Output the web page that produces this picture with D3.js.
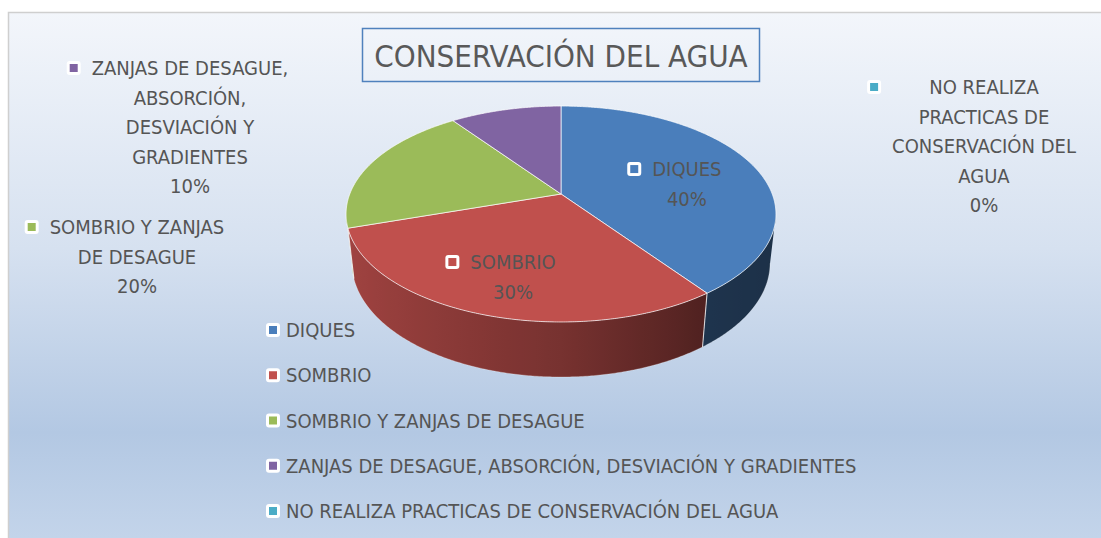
<!DOCTYPE html>
<html>
<head>
<meta charset="utf-8">
<script src="https://cdn.jsdelivr.net/npm/d3@7"></script>
<style>
  body { margin: 0; background: #ffffff; }
  svg { display: block; }
  text { font-family: "Liberation Sans Narrow", "DejaVu Sans Condensed", "Open Sans", sans-serif; }
</style>
</head>
<body>
<svg id="chart" width="1101" height="538"></svg>
<script>
// ---- data ----
const title = "CONSERVACIÓN DEL AGUA";
const categories = [
  "DIQUES",
  "SOMBRIO",
  "SOMBRIO Y ZANJAS DE DESAGUE",
  "ZANJAS DE DESAGUE, ABSORCIÓN, DESVIACIÓN Y GRADIENTES",
  "NO REALIZA PRACTICAS DE CONSERVACIÓN DEL AGUA"
];
const values = [40, 30, 20, 10, 0];
const colors = ["#4a7ebb", "#c0504d", "#9bbb59", "#8064a2", "#4bacc6"];
// category names as wrapped in the data labels
const labelLines = [
  ["DIQUES"],
  ["SOMBRIO"],
  ["SOMBRIO Y ZANJAS", "DE DESAGUE"],
  ["ZANJAS DE DESAGUE,", "ABSORCIÓN,", "DESVIACIÓN Y", "GRADIENTES"],
  ["NO REALIZA", "PRACTICAS DE", "CONSERVACIÓN DEL", "AGUA"]
];

// ---- layout ----
const W = 1101, H = 538;
const fontSize = 20, lineGap = 29.5;
const textColor = "#555555";
// labels placed outside the pie: centre x and first-line y
const outsideLabelPos = { 2: [137, 227], 3: [190, 68], 4: [984, 87] };

const svg = d3.select("#chart");
const defs = svg.append("defs");

// chart area background
const bg = defs.append("linearGradient").attr("id", "bgGrad")
  .attr("x1", 0).attr("y1", 0).attr("x2", 0).attr("y2", 1);
[[0, "#f3f6fb"], [0.45, "#d6e1f0"], [0.8, "#b3c8e3"], [1, "#c3d4ea"]].forEach(([o, c]) =>
  bg.append("stop").attr("offset", o).attr("stop-color", c));

svg.append("rect").attr("x", 8).attr("y", 12).attr("width", W - 8).attr("height", H - 12)
  .attr("fill", "url(#bgGrad)");
svg.append("path").attr("d", `M8.5,${H} L8.5,12.5 L${W},12.5`)
  .attr("fill", "none").attr("stroke", "#cfcfcf").attr("stroke-width", 1.5);

// ---- title ----
svg.append("rect").attr("x", 362.5).attr("y", 28.5).attr("width", 397).attr("height", 53)
  .attr("fill", "none").attr("stroke", "#4f81bd").attr("stroke-width", 1.5);
svg.append("text").attr("x", 561).attr("y", 56).attr("dy", "0.35em")
  .attr("text-anchor", "middle").attr("font-size", 31).attr("fill", "#595959")
  .text(title);

// ---- 3D pie projection ----
const view = { cx: 561, cy: 194, fx: 997, fy: 1015, dist: 4.72, tilt: 29 * Math.PI / 180, depth: 0.265 };
const sT = Math.sin(view.tilt), cT = Math.cos(view.tilt);
// X: right, Z: toward viewer, Y: height (0 = top face)
function project(X, Z, Y) {
  const v = -Y * cT + Z * sT;
  const w = view.dist - (Z * cT + Y * sT);
  return [view.cx + view.fx * X / w, view.cy + view.fy * v / w];
}
function rimPoint(angle, r, Y) {
  return project(r * Math.sin(angle), -r * Math.cos(angle), Y);
}

const pie = d3.pie().sort(null).value(d => d);
const arcs = pie(values).map((a, i) => ({ ...a, i }));
const line = d3.line();
const step = Math.PI / 360;

// visible part of the outer wall: between the rightmost and leftmost rim points
const samples = d3.range(0, 2 * Math.PI, step);
const tRight = samples.filter(t => t < Math.PI).reduce((b, t) => rimPoint(t, 1, 0)[0] > rimPoint(b, 1, 0)[0] ? t : b, 0);
const tLeft = samples.filter(t => t > Math.PI).reduce((b, t) => rimPoint(t, 1, 0)[0] < rimPoint(b, 1, 0)[0] ? t : b, Math.PI);

// shading of the outer wall depending on its horizontal facing
const shade = d3.scaleLinear().domain([-1, 0, 0.6, 1]).range([0.85, 0.62, 0.41, 0.38]).clamp(true);
function shaded(color, angle) {
  const c = d3.rgb(color), k = shade(Math.sin(angle));
  return d3.rgb(c.r * k, c.g * k, c.b * k).formatHex();
}

const gPie = svg.append("g");

arcs.forEach(a => {
  const lo = Math.max(a.startAngle, tRight), hi = Math.min(a.endAngle, tLeft);
  if (hi - lo < 1e-6) return;
  const ts = d3.range(lo, hi, step).concat([hi]);
  const x1 = rimPoint(lo, 1, 0)[0], x2 = rimPoint(hi, 1, 0)[0];
  const grad = defs.append("linearGradient").attr("id", "wall" + a.i)
    .attr("gradientUnits", "userSpaceOnUse")
    .attr("x1", x1).attr("y1", 0).attr("x2", x2).attr("y2", 0);
  ts.filter((t, k) => k % 6 === 0 || k === ts.length - 1).forEach(t => {
    grad.append("stop")
      .attr("offset", Math.abs(x2 - x1) < 1e-6 ? 0 : (rimPoint(t, 1, 0)[0] - x1) / (x2 - x1))
      .attr("stop-color", shaded(colors[a.i], t));
  });
  const pts = ts.map(t => rimPoint(t, 1, 0))
    .concat(ts.slice().reverse().map(t => rimPoint(t, 1, -view.depth)));
  gPie.append("path").attr("d", line(pts) + "Z").attr("fill", `url(#wall${a.i})`);
});

// seams on the wall where slices meet (visible ones only)
arcs.filter(a => a.endAngle > tRight && a.endAngle < tLeft && a.endAngle > a.startAngle)
  .forEach(a => {
    gPie.append("path")
      .attr("d", line([rimPoint(a.endAngle, 1, 0), rimPoint(a.endAngle, 1, -view.depth)]))
      .attr("stroke", "rgba(255,255,255,0.75)").attr("stroke-width", 1.1).attr("fill", "none");
  });

// bottom rim highlight
gPie.append("path")
  .attr("d", line(d3.range(tRight, tLeft, step).map(t => rimPoint(t, 1, -view.depth))))
  .attr("fill", "none").attr("stroke", "rgba(255,255,255,0.35)").attr("stroke-width", 0.8);

// top faces
gPie.selectAll("path.top").data(arcs.filter(a => a.endAngle > a.startAngle)).join("path")
  .attr("class", "top")
  .attr("d", a => {
    const pts = [project(0, 0, 0)];
    for (let t = a.startAngle; t < a.endAngle; t += step) pts.push(rimPoint(t, 1, 0));
    pts.push(rimPoint(a.endAngle, 1, 0));
    return line(pts) + "Z";
  })
  .attr("fill", a => colors[a.i])
  .attr("stroke", "rgba(255,255,255,0.7)").attr("stroke-width", 1)
  .attr("stroke-linejoin", "round");

// ---- marker used by labels and legend ----
function marker(g, x, y, color) {
  g.append("rect").attr("x", x - 7).attr("y", y - 7).attr("width", 14).attr("height", 14)
    .attr("rx", 3).attr("fill", "#ffffff");
  g.append("rect").attr("x", x - 4).attr("y", y - 4).attr("width", 8).attr("height", 8)
    .attr("fill", color);
}

// ---- data labels ----
const gLabels = svg.append("g");
arcs.forEach(a => {
  const lines = labelLines[a.i].concat([Math.round(a.data) + "%"]);
  let cx, y0;
  if (outsideLabelPos[a.i]) {
    [cx, y0] = outsideLabelPos[a.i];
  } else {
    const mid = (a.startAngle + a.endAngle) / 2;
    const p = rimPoint(mid, 0.65, 0);
    cx = p[0];
    y0 = p[1] + 10 - (lines.length - 1) * lineGap / 2;
  }
  const g = gLabels.append("g");
  const texts = g.selectAll("text").data(lines).join("text")
    .attr("x", cx).attr("y", (d, k) => y0 + k * lineGap).attr("dy", "0.35em")
    .attr("text-anchor", "middle").attr("font-size", fontSize).attr("fill", textColor)
    .text(d => d);
  let maxW = 0;
  texts.each(function () { maxW = Math.max(maxW, this.getComputedTextLength()); });
  marker(g, cx - maxW / 2 - 18, y0, colors[a.i]);
});

// ---- legend ----
const legend = svg.append("g");
const legendY = d3.scalePoint().domain(d3.range(categories.length)).range([330, 511]);
categories.forEach((c, i) => {
  marker(legend, 273, legendY(i), colors[i]);
  legend.append("text").attr("x", 286).attr("y", legendY(i)).attr("dy", "0.35em")
    .attr("font-size", fontSize).attr("fill", textColor).text(c);
});
</script>
</body>
</html>
